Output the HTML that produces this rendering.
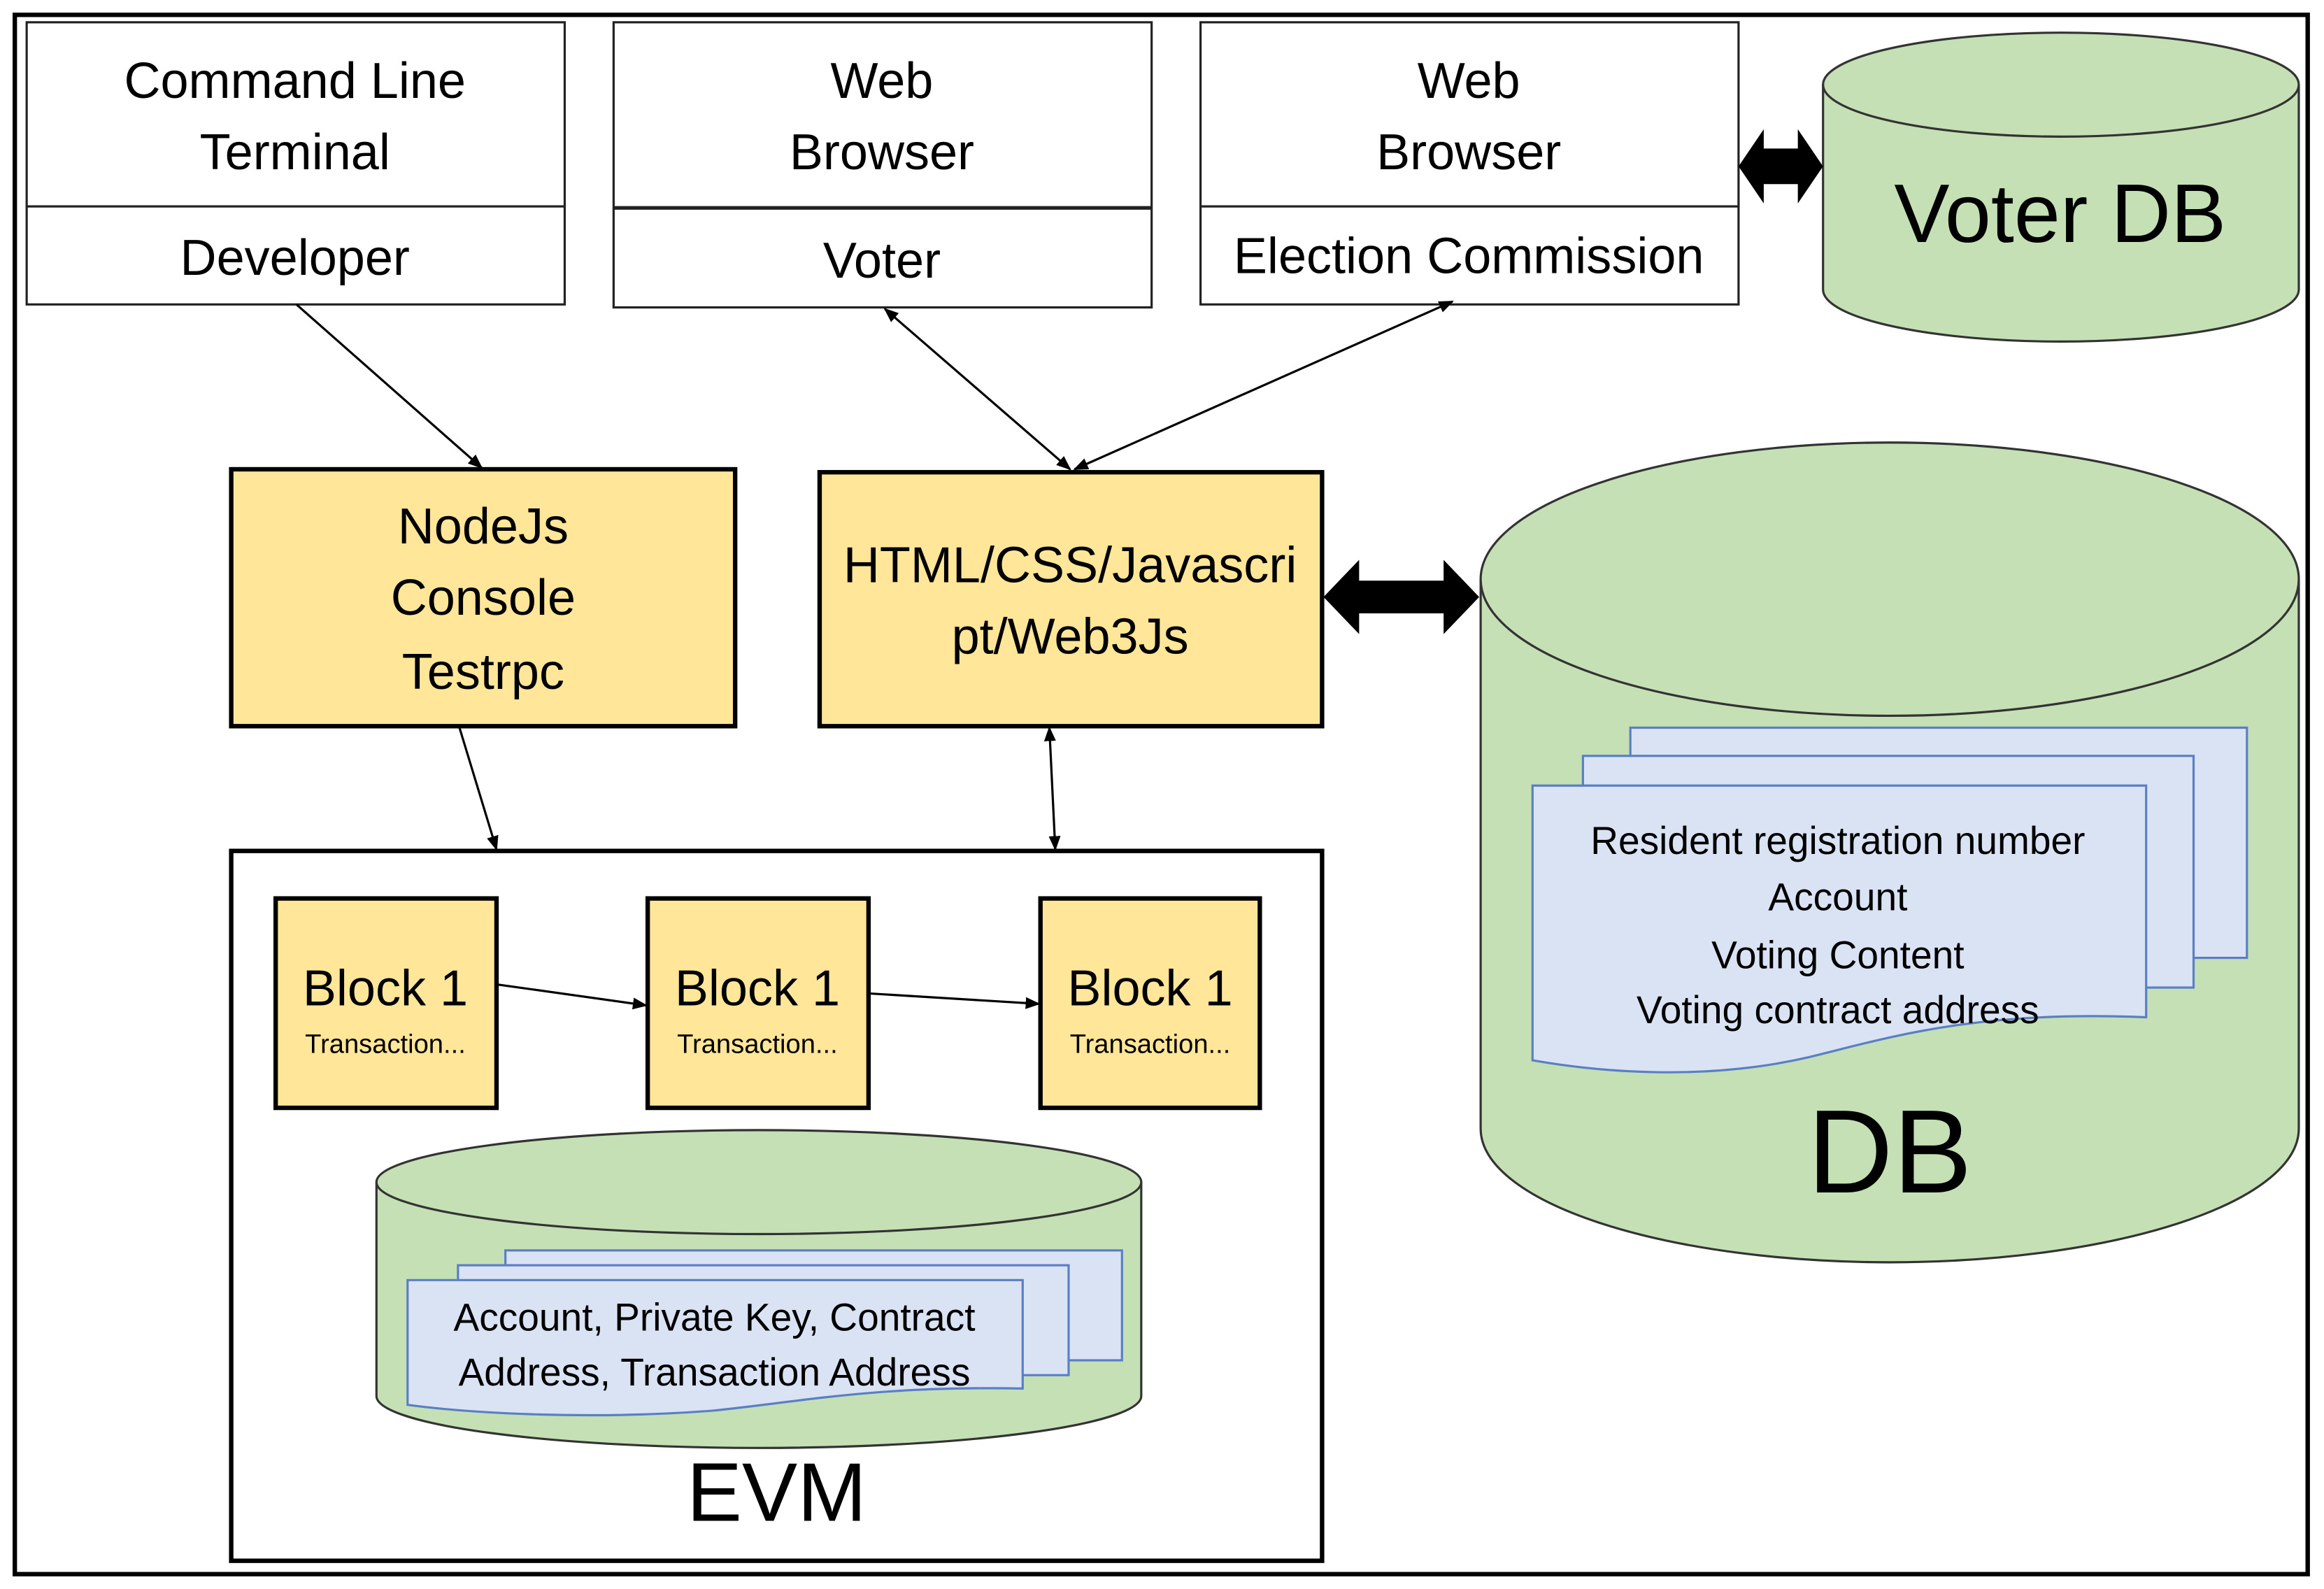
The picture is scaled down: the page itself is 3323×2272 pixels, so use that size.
<!DOCTYPE html>
<html><head><meta charset="utf-8"><style>html,body{margin:0;padding:0;background:#fff}svg{display:block}text{font-family:"Liberation Sans",sans-serif;fill:#000}</style></head><body>
<svg width="3323" height="2272" viewBox="0 0 1568 1070" preserveAspectRatio="none" xmlns="http://www.w3.org/2000/svg">
<defs>
<marker id="a" markerWidth="10" markerHeight="10" refX="9" refY="5" orient="auto-start-reverse" markerUnits="userSpaceOnUse"><path d="M0,1 L10,5 L0,9 z" fill="#000"/></marker>
</defs>
<rect x="0" y="0" width="1568" height="1070" fill="#fff"/>
<rect x="10" y="10" width="1547" height="1050" fill="none" stroke="#000" stroke-width="3"/>
<!-- top boxes -->
<g fill="#fff" stroke="#222" stroke-width="1.5">
<rect x="18" y="15" width="363" height="190"/><line x1="18" y1="139" x2="381" y2="139"/>
<rect x="414" y="15" width="363" height="192"/><line x1="414" y1="140" x2="777" y2="140" stroke-width="2.5"/>
<rect x="810" y="15" width="363" height="190"/><line x1="810" y1="139" x2="1173" y2="139"/>
</g>
<g font-size="34" text-anchor="middle">
<text x="199" y="66">Command Line</text><text x="199" y="114">Terminal</text><text x="199" y="185">Developer</text>
<text x="595" y="66">Web</text><text x="595" y="114">Browser</text><text x="595" y="187">Voter</text>
<text x="991" y="66">Web</text><text x="991" y="114">Browser</text><text x="991" y="184">Election Commission</text>
</g>
<!-- Voter DB -->
<path d="M1230,57 L1230,195 A160.5,35 0 0 0 1551,195 L1551,57" fill="#c5e0b4" stroke="#333" stroke-width="1.5"/>
<ellipse cx="1390.5" cy="57" rx="160.5" ry="35" fill="#c5e0b4" stroke="#333" stroke-width="1.5"/>
<text x="1390" y="163" font-size="56" text-anchor="middle">Voter DB</text>
<path d="M1173,112 L1190,87 L1190,100 L1213,100 L1213,87 L1230,112 L1213,137 L1213,124 L1190,124 L1190,137 z" fill="#000"/>
<!-- yellow boxes -->
<rect x="156" y="316" width="340" height="173" fill="#ffe699" stroke="#000" stroke-width="3"/>
<rect x="553" y="318" width="339" height="171" fill="#ffe699" stroke="#000" stroke-width="3"/>
<g font-size="34" text-anchor="middle">
<text x="326" y="366">NodeJs</text><text x="326" y="414">Console</text><text x="326" y="464">Testrpc</text>
<text x="722" y="392">HTML/CSS/Javascri</text><text x="722" y="440">pt/Web3Js</text>
</g>
<path d="M893,402 L917,377 L917,391 L974,391 L974,377 L998,402 L974,427 L974,413 L917,413 L917,427 z" fill="#000"/>
<!-- DB -->
<path d="M999,390 L999,760 A276,90 0 0 0 1551,760 L1551,390" fill="#c5e0b4" stroke="#333" stroke-width="1.5"/>
<ellipse cx="1275" cy="390" rx="276" ry="92" fill="#c5e0b4" stroke="#333" stroke-width="1.5"/>
<text x="1275" y="803" font-size="80" text-anchor="middle">DB</text>
<g fill="#dae3f3" stroke="#5b7fc4" stroke-width="1.5">
<rect x="1100" y="490" width="416" height="155"/>
<rect x="1068" y="509" width="412" height="156"/>
<path d="M1034,529 L1448,529 L1448,685 C1330,680 1270,700 1220,712 C1150,728 1080,722 1034,714 z"/>
</g>
<g font-size="26" text-anchor="middle">
<text x="1240" y="575">Resident registration number</text><text x="1240" y="613">Account</text><text x="1240" y="652">Voting Content</text><text x="1240" y="689">Voting contract address</text>
</g>
<!-- connectors -->
<g stroke="#000" stroke-width="1.5">
<line x1="200" y1="205" x2="325" y2="315" marker-end="url(#a)"/>
<line x1="597" y1="208" x2="722" y2="316" marker-start="url(#a)" marker-end="url(#a)"/>
<line x1="980" y1="203" x2="725" y2="316" marker-start="url(#a)" marker-end="url(#a)"/>
<line x1="310" y1="490" x2="335" y2="572" marker-end="url(#a)"/>
<line x1="708" y1="490" x2="712" y2="572" marker-start="url(#a)" marker-end="url(#a)"/>
</g>
<!-- EVM -->
<rect x="156" y="573" width="736" height="478" fill="#fff" stroke="#000" stroke-width="3"/>
<g fill="#ffe699" stroke="#000" stroke-width="3">
<rect x="186" y="605" width="149" height="141"/><rect x="437" y="605" width="149" height="141"/><rect x="702" y="605" width="148" height="141"/>
</g>
<g text-anchor="middle">
<text x="260" y="677" font-size="34">Block 1</text><text x="260" y="709" font-size="18">Transaction...</text>
<text x="511" y="677" font-size="34">Block 1</text><text x="511" y="709" font-size="18">Transaction...</text>
<text x="776" y="677" font-size="34">Block 1</text><text x="776" y="709" font-size="18">Transaction...</text>
</g>
<g stroke="#000" stroke-width="1.5">
<line x1="336" y1="663" x2="436" y2="677" marker-end="url(#a)"/>
<line x1="587" y1="669" x2="701" y2="676" marker-end="url(#a)"/>
</g>
<path d="M254,796 L254,940 A258,35 0 0 0 770,940 L770,796" fill="#c5e0b4" stroke="#333" stroke-width="1.5"/>
<ellipse cx="512" cy="796" rx="258" ry="35" fill="#c5e0b4" stroke="#333" stroke-width="1.5"/>
<g fill="#dae3f3" stroke="#5b7fc4" stroke-width="1.5">
<rect x="341" y="842" width="416" height="74"/>
<rect x="309" y="852" width="412" height="74"/>
<path d="M275,862 L690,862 L690,935 C590,933 540,944 480,950 C400,956 320,952 275,946 z"/>
</g>
<g font-size="26" text-anchor="middle">
<text x="482" y="896">Account, Private Key, Contract</text><text x="482" y="933">Address, Transaction Address</text>
</g>
<text x="524" y="1024" font-size="56" text-anchor="middle">EVM</text>
</svg>
</body></html>
